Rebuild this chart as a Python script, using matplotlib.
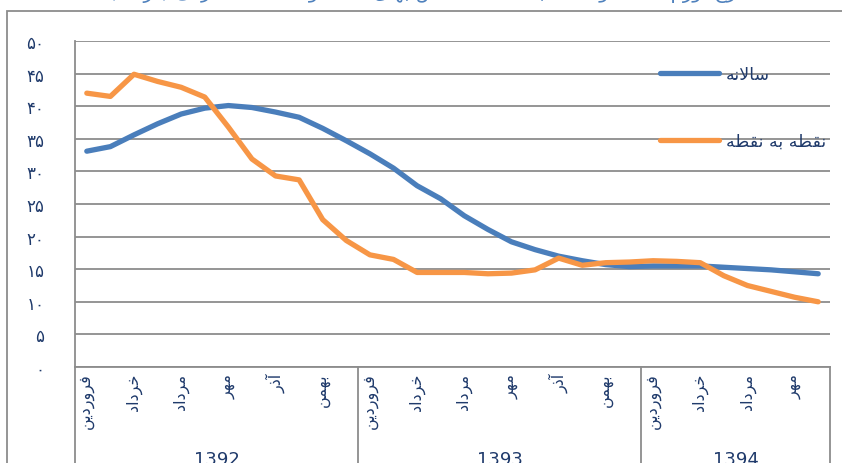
import matplotlib
matplotlib.use('Agg')
import matplotlib.pyplot as plt
import matplotlib.transforms as mtransforms
from matplotlib.patches import Rectangle

# data
annual = [33.1, 33.8, 35.6, 37.3, 38.8, 39.7, 40.1, 39.8, 39.1, 38.3, 36.6, 34.7,
          32.7, 30.5, 27.8, 25.8, 23.2, 21.1, 19.2, 18.0, 17.0, 16.3, 15.7, 15.4,
          15.5, 15.5, 15.5, 15.3, 15.1, 14.9, 14.6, 14.3]
p2p = [42.0, 41.5, 44.9, 43.8, 42.9, 41.4, 36.8, 31.9, 29.3, 28.7, 22.6, 19.4,
       17.2, 16.5, 14.5, 14.5, 14.5, 14.3, 14.4, 14.9, 16.7, 15.6, 16.0, 16.1,
       16.3, 16.2, 16.0, 14.0, 12.5, 11.6, 10.7, 10.0]
years = ['1392', '1393', '1394']
year_len = [12, 12, 8]
months = ['فروردین', 'خرداد', 'مرداد', 'مهر', 'آذر', 'بهمن']
yticks = [0, 5, 10, 15, 20, 25, 30, 35, 40, 45, 50]
title = 'نرخ تورم سالانه و نقطه به نقطه شاخص بهای کالاها و خدمات مصرفی (درصد)'
labels = ['سالانه', 'نقطه به نقطه']

# persian shaping (matplotlib has no text shaping)
FORMS = {  # isolated, final, initial, medial
    'ا': ('\uFE8D', '\uFE8E', None, None),
    'آ': ('\uFE81', '\uFE82', None, None),
    'ب': ('\uFE8F', '\uFE90', '\uFE91', '\uFE92'),
    'ت': ('\uFE95', '\uFE96', '\uFE97', '\uFE98'),
    'خ': ('\uFEA5', '\uFEA6', '\uFEA7', '\uFEA8'),
    'د': ('\uFEA9', '\uFEAA', None, None),
    'ذ': ('\uFEAB', '\uFEAC', None, None),
    'ر': ('\uFEAD', '\uFEAE', None, None),
    'ز': ('\uFEAF', '\uFEB0', None, None),
    'س': ('\uFEB1', '\uFEB2', '\uFEB3', '\uFEB4'),
    'ش': ('\uFEB5', '\uFEB6', '\uFEB7', '\uFEB8'),
    'ص': ('\uFEB9', '\uFEBA', '\uFEBB', '\uFEBC'),
    'ط': ('\uFEC1', '\uFEC2', '\uFEC3', '\uFEC4'),
    'ف': ('\uFED1', '\uFED2', '\uFED3', '\uFED4'),
    'ق': ('\uFED5', '\uFED6', '\uFED7', '\uFED8'),
    'ک': ('\uFB8E', '\uFB8F', '\uFB90', '\uFB91'),
    'ل': ('\uFEDD', '\uFEDE', '\uFEDF', '\uFEE0'),
    'م': ('\uFEE1', '\uFEE2', '\uFEE3', '\uFEE4'),
    'ن': ('\uFEE5', '\uFEE6', '\uFEE7', '\uFEE8'),
    'ه': ('\uFEE9', '\uFEEA', '\uFEEB', '\uFEEC'),
    'و': ('\uFEED', '\uFEEE', None, None),
    'ی': ('\uFEEF', '\uFEF0', '\uFEF3', '\uFEF4'),
}
LAM_ALEF = {'ا': ('\uFEFB', '\uFEFC'), 'آ': ('\uFEF5', '\uFEF6')}
MIRROR = {'(': ')', ')': '('}


def fa(s):
    out = []
    i = 0
    while i < len(s):
        c = s[i]
        if c not in FORMS:
            out.append(c)
            i += 1
            continue
        prev = s[i - 1] if i > 0 else ''
        joins_prev = prev in FORMS and FORMS[prev][2] is not None
        if c == 'ل' and i + 1 < len(s) and s[i + 1] in LAM_ALEF:
            out.append(LAM_ALEF[s[i + 1]][1 if joins_prev else 0])
            i += 2
            continue
        nxt = s[i + 1] if i + 1 < len(s) else ''
        joins_next = FORMS[c][2] is not None and nxt in FORMS
        iso, fin, ini, med = FORMS[c]
        if joins_prev and joins_next:
            out.append(med)
        elif joins_prev:
            out.append(fin)
        elif joins_next:
            out.append(ini)
        else:
            out.append(iso)
        i += 1
    return ''.join(MIRROR.get(ch, ch) for ch in reversed(out))


def fa_digits(n):
    return ''.join(chr(0x06F0 + int(d)) for d in str(n))


plt.rcParams['font.family'] = ['DejaVu Sans']
navy = '#1F3A6B'
grid = '#8C8C8C'

fig = plt.figure(figsize=(8.42, 4.64), dpi=100)
ax = fig.add_axes([75 / 842, 1 - 368 / 464, 755 / 842, 326 / 464])

x = range(len(annual))
ax.plot(x, annual, color='#4A7EBB', lw=3.8, solid_capstyle='round',
        solid_joinstyle='round', label=fa(labels[0]), zorder=3)
ax.plot(x, p2p, color='#F79646', lw=3.8, solid_capstyle='round',
        solid_joinstyle='round', label=fa(labels[1]), zorder=3)

ax.set_xlim(-0.5, len(annual) - 0.5)
ax.set_ylim(0, 50)
ax.set_yticks(yticks)
ax.set_yticklabels([fa_digits(v) for v in yticks], color=navy, fontsize=12)
ax.yaxis.grid(True, color=grid, lw=1.3)
ax.set_axisbelow(True)
ax.tick_params(axis='y', length=0, pad=22)

# month ticks, every other month
ticks, tlabels = [], []
start = 0
for n in year_len:
    for k in range(0, n, 2):
        ticks.append(start + k)
        tlabels.append(fa(months[k // 2]))
    start += n
ax.set_xticks(ticks)
ax.set_xticklabels(tlabels, rotation=90, va='top', ha='center',
                   color=navy, fontsize=11.5)
ax.tick_params(axis='x', length=0, pad=4)

for side in ['top', 'right']:
    ax.spines[side].set_visible(False)
for side in ['left', 'bottom']:
    ax.spines[side].set_color(grid)
    ax.spines[side].set_linewidth(1.3)

# year groups with separators
trans = mtransforms.blended_transform_factory(ax.transData, ax.transAxes)
tfig = mtransforms.blended_transform_factory(ax.transData, fig.transFigure)
start = 0
bounds = [-0.5]
for yr, n in zip(years, year_len):
    ax.text(start + (n - 1) / 2, 1 - 451 / 464, yr, transform=tfig,
            ha='center', va='top', fontsize=13, color=navy)
    start += n
    bounds.append(start - 0.5)
for b in bounds:
    ax.plot([b, b], [0, -0.32], transform=trans, color=grid, lw=1.3,
            clip_on=False)

# legend
leg = ax.legend(loc='upper left', bbox_to_anchor=(0.775, 0.925), frameon=False,
                fontsize=12.5, handlelength=3.4, handletextpad=0.4,
                labelspacing=2.8, borderpad=0, borderaxespad=0)
for t in leg.get_texts():
    t.set_color(navy)

# title, cut off at the top like the reference
fig.text(426 / 842, 1 + 2 / 464, fa(title), ha='center', va='baseline',
         fontsize=14, color='#4F81BD')

# outer chart border
fig.patches.append(Rectangle((7 / 842, -0.1), 1.2, 1.1 - 12 / 464,
                             transform=fig.transFigure, fill=False,
                             edgecolor=grid, lw=1.3))

fig.savefig('out.png', dpi=100)
